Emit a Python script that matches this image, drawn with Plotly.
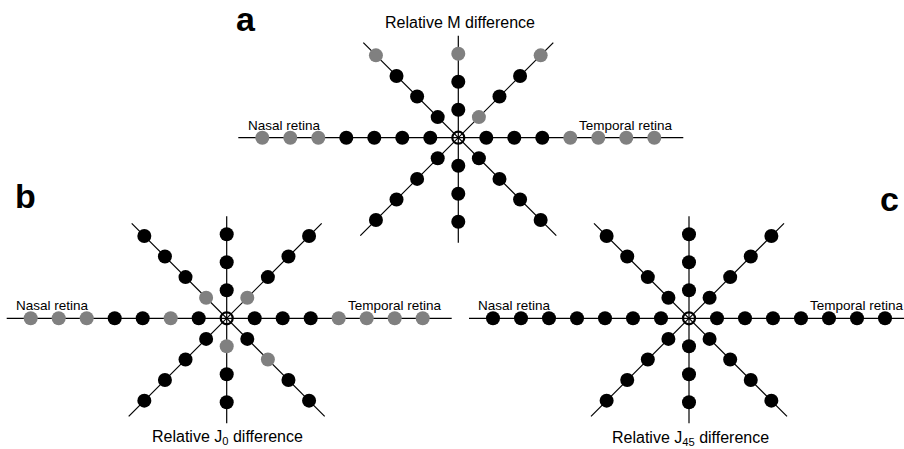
import math
import plotly.graph_objects as go

# ---------------- DATA ----------------
# Test-location index along each meridian (inner -> outer)
horizontal_pos = [1, 2, 3, 4, 5, 6, 7]
vertical_pos = [1, 2, 3]
oblique_pos = [1, 2, 3, 4]

panel_letters = ["a", "b", "c"]
panel_titles = ["Relative M difference",
                "Relative J<sub>0</sub> difference",
                "Relative J<sub>45</sub> difference"]
nasal_label = "Nasal retina"
temporal_label = "Temporal retina"

# 1 = significant (black), 0 = not significant (grey); inner -> outer
M_nasal = [1, 1, 1, 1, 0, 0, 0]
M_temporal = [1, 1, 1, 0, 0, 0, 0]
M_superior = [1, 1, 0]
M_inferior = [1, 1, 1]
M_sup_nasal = [1, 1, 1, 0]
M_sup_temporal = [0, 1, 1, 0]
M_inf_nasal = [1, 1, 1, 1]
M_inf_temporal = [1, 1, 1, 1]

J0_nasal = [1, 0, 1, 1, 0, 0, 0]
J0_temporal = [1, 1, 1, 0, 0, 0, 0]
J0_superior = [1, 1, 1]
J0_inferior = [0, 1, 1]
J0_sup_nasal = [0, 1, 1, 1]
J0_sup_temporal = [0, 1, 1, 1]
J0_inf_nasal = [1, 1, 1, 1]
J0_inf_temporal = [1, 0, 1, 1]

J45_nasal = [1, 1, 1, 1, 1, 1, 1]
J45_temporal = [1, 1, 1, 1, 1, 1, 1]
J45_superior = [1, 1, 1]
J45_inferior = [1, 1, 1]
J45_sup_nasal = [1, 1, 1, 1]
J45_sup_temporal = [1, 1, 1, 1]
J45_inf_nasal = [1, 1, 1, 1]
J45_inf_temporal = [1, 1, 1, 1]

panels_status = [
    dict(nasal=M_nasal, temporal=M_temporal, superior=M_superior, inferior=M_inferior,
         sup_nasal=M_sup_nasal, sup_temporal=M_sup_temporal,
         inf_nasal=M_inf_nasal, inf_temporal=M_inf_temporal),
    dict(nasal=J0_nasal, temporal=J0_temporal, superior=J0_superior, inferior=J0_inferior,
         sup_nasal=J0_sup_nasal, sup_temporal=J0_sup_temporal,
         inf_nasal=J0_inf_nasal, inf_temporal=J0_inf_temporal),
    dict(nasal=J45_nasal, temporal=J45_temporal, superior=J45_superior, inferior=J45_inferior,
         sup_nasal=J45_sup_nasal, sup_temporal=J45_sup_temporal,
         inf_nasal=J45_inf_nasal, inf_temporal=J45_inf_temporal),
]

# ---------------- STYLE / LAYOUT ----------------
W, H = 904, 449
U = 28.0                 # pixels per position unit
OBL = 1.04               # spacing along oblique meridians relative to principal ones
BLACK = "#000000"
GREY = "#808080"
FONT = "Liberation Sans, Arial, Helvetica, sans-serif"

s = 1 / math.sqrt(2)
directions = {
    "nasal": (-1, 0, horizontal_pos),
    "temporal": (1, 0, horizontal_pos),
    "superior": (0, 1, vertical_pos),
    "inferior": (0, -1, vertical_pos),
    "sup_nasal": (-s * OBL, s * OBL, oblique_pos),
    "sup_temporal": (s * OBL, s * OBL, oblique_pos),
    "inf_nasal": (-s * OBL, -s * OBL, oblique_pos),
    "inf_temporal": (s * OBL, -s * OBL, oblique_pos),
}

# panel centres (px) and plotting rectangles (px)
centers = [(458.3, 137.7), (226.7, 318.3), (689.0, 318.3)]
rects = [(225, 695, 28, 250), (0, 462, 205, 432), (462, 904, 205, 432)]

# ray extents in px
RAY_L, RAY_R, RAY_UP, RAY_DN, DG_UP, DG_DN = 220, 225, 102, 105, 95, 98

fig = go.Figure()
layout_axes = {}

for i, (status, (cx, cy), (x0, x1, y0, y1)) in enumerate(zip(panels_status, centers, rects)):
    sfx = "" if i == 0 else str(i + 1)
    xa, ya = "x" + sfx, "y" + sfx
    layout_axes["xaxis" + sfx] = dict(
        domain=[x0 / W, x1 / W], range=[(x0 - cx) / U, (x1 - cx) / U],
        visible=False, fixedrange=True, anchor=ya)
    layout_axes["yaxis" + sfx] = dict(
        domain=[1 - y1 / H, 1 - y0 / H], range=[(cy - y1) / U, (cy - y0) / U],
        visible=False, fixedrange=True, anchor=xa)

    # rays: horizontal, vertical, two obliques
    lx = [-RAY_L / U, RAY_R / U, None,
          0, 0, None,
          -DG_DN / U, DG_UP / U, None,
          -DG_UP / U, DG_DN / U]
    ly = [0, 0, None,
          RAY_UP / U, -RAY_DN / U, None,
          -DG_DN / U, DG_UP / U, None,
          DG_UP / U, -DG_DN / U]
    fig.add_trace(go.Scatter(x=lx, y=ly, mode="lines", xaxis=xa, yaxis=ya,
                             line=dict(color=BLACK, width=1.2), hoverinfo="skip"))

    # dots
    px, py, pc = [], [], []
    for key, (dx, dy, pos) in directions.items():
        for p, st in zip(pos, status[key]):
            px.append(p * dx)
            py.append(p * dy)
            pc.append(BLACK if st == 1 else GREY)
    fig.add_trace(go.Scatter(x=px, y=py, mode="markers", xaxis=xa, yaxis=ya,
                             marker=dict(size=14, color=pc, line=dict(width=0)),
                             hoverinfo="skip"))

    # fixation (centre) marker
    fig.add_trace(go.Scatter(x=[0], y=[0], mode="markers", xaxis=xa, yaxis=ya,
                             marker=dict(symbol="circle-open", size=12, color=BLACK,
                                         line=dict(width=2.2, color=BLACK)),
                             hoverinfo="skip"))


def ann(text, x, y, size, bold=False):
    return dict(text=("<b>%s</b>" % text) if bold else text,
                x=x / W, y=1 - y / H, xref="paper", yref="paper",
                xanchor="center", yanchor="middle", showarrow=False,
                font=dict(family=FONT, size=size, color=BLACK))


annotations = [
    ann(panel_letters[0], 246, 19, 34, True),
    ann(panel_letters[1], 25, 196, 34, True),
    ann(panel_letters[2], 889, 199, 34, True),
    ann(panel_titles[0], 460, 22.5, 16),
    ann(panel_titles[1], 227.5, 437, 16),
    ann(panel_titles[2], 690, 438.5, 16),
    ann(nasal_label, 284.2, 125.5, 13.5),
    ann(temporal_label, 626.3, 125.5, 13.5),
    ann(nasal_label, 52.2, 305.5, 13.5),
    ann(temporal_label, 395, 305.5, 13.5),
    ann(nasal_label, 514.2, 305.5, 13.5),
    ann(temporal_label, 856.7, 305.5, 13.5),
]

fig.update_layout(
    width=W, height=H,
    margin=dict(l=0, r=0, t=0, b=0),
    paper_bgcolor="white", plot_bgcolor="rgba(0,0,0,0)",
    showlegend=False,
    annotations=annotations,
    **layout_axes,
)

fig.write_html(
    "out.html",
    config={"displayModeBar": False, "staticPlot": True},
    post_script="document.body.style.margin='0';document.body.style.overflow='hidden';",
)
